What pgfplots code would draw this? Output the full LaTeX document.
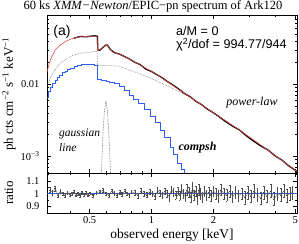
\documentclass[border=0pt]{standalone}
\usepackage{pgfplots}
\pgfplotsset{compat=1.18}
\usepackage{fontspec}
\setmainfont{Liberation Serif}
\setsansfont{Liberation Sans}
\definecolor{mred}{RGB}{228,75,75}
\definecolor{mblue}{RGB}{45,95,245}
\definecolor{mgray}{RGB}{110,110,110}
\begin{document}
\begin{tikzpicture}
\useasboundingbox (0,0) rectangle (299pt,243pt);
\pgfplotsset{
  every axis/.append style={
    scale only axis, width=250pt,
    xmode=log, xmin=0.31, xmax=5.1,
    tick align=inside,
    major tick length=4pt, minor tick length=2pt,
    ticklabel style={font=\fontsize{10.5}{12}\selectfont},
    yticklabel style={xshift=-4pt},
    xtick={0.5,1,2,5},
    minor xtick={0.4,0.6,0.7,0.8,0.9,3,4},
    tick style={black, line width=0.4pt},
    axis line style={line width=0.5pt},
  }
}
\begin{axis}[name=main, at={(47pt,70pt)}, anchor=south west,
  height=158pt, ymode=log, ymin=5.8e-4, ymax=0.092,
  xticklabels={},
  ytick={0.001,0.01}, yticklabels={10\textsuperscript{−3},0.01},
  minor ytick={6e-4,7e-4,8e-4,9e-4,2e-3,3e-3,4e-3,5e-3,6e-3,7e-3,8e-3,9e-3,2e-2,3e-2,4e-2,5e-2,6e-2,7e-2,8e-2,9e-2},
  ylabel={ph cts cm\textsuperscript{−2} s\textsuperscript{−1} keV\textsuperscript{−1}},
  ylabel style={at={(axis description cs:-0.152,0.5)}, anchor=center, font=\fontsize{13}{15}\selectfont},
]
% power-law (dotted grey)
\addplot[mgray, densely dotted, line width=0.6pt] coordinates {
(0.31,0.0097) (0.332,0.0147) (0.358,0.0196) (0.389,0.0230) (0.416,0.0253)
(0.449,0.0270) (0.486,0.0278) (0.543,0.0287) (0.546,0.0184) (0.626,0.0181)
(0.700,0.0178) (0.784,0.0156) (0.866,0.0142) (1.039,0.0114) (1.23,0.0091)
(1.54,0.0066) (2.03,0.0039) (2.68,0.0023) (3.69,0.0012) (4.98,0.00064) (5.1,0.00061)};
% gaussian line
\addplot[mgray!70!black, densely dotted, line width=0.6pt] coordinates {
(0.570,0.00056) (0.580,0.0020) (0.590,0.00434) (0.600,0.0056) (0.610,0.00434) (0.620,0.0020) (0.632,0.00056)};
% compsh (blue)
\addplot[mblue, line width=0.8pt, const plot] coordinates {
(0.31,0.0066) (0.316,0.0080) (0.321,0.0091) (0.330,0.0103) (0.339,0.0114) (0.348,0.0124)
(0.358,0.0133) (0.370,0.0146) (0.380,0.0153) (0.391,0.0160) (0.402,0.0167) (0.42,0.0175)
(0.437,0.0181) (0.455,0.0186) (0.474,0.0190) (0.494,0.0189) (0.514,0.0187) (0.530,0.0184)
(0.543,0.0181) (0.546,0.0117) (0.57,0.0113) (0.600,0.0110) (0.626,0.0107) (0.66,0.0101)
(0.700,0.0094) (0.74,0.0083) (0.784,0.0070) (0.82,0.0062) (0.866,0.0054) (0.92,0.0045)
(0.985,0.0036) (1.04,0.0029) (1.10,0.0023) (1.16,0.0018) (1.23,0.0013) (1.28,0.00105)
(1.34,0.00080) (1.40,0.00066) (1.45,0.00058)};
% data (black)
\addplot[black, line width=1.3pt] coordinates {
(0.42,0.0438) (0.45,0.0462) (0.48,0.0458) (0.51,0.0468) (0.53,0.0472) (0.545,0.0465)
(0.548,0.0300) (0.56,0.0298) (0.58,0.0325) (0.60,0.0352) (0.61,0.0350) (0.63,0.0305)
(0.66,0.0275) (0.70,0.0262) (0.74,0.0242) (0.78,0.0225) (0.82,0.0205) (0.88,0.0187)
(0.94,0.0162) (1.0,0.0150) (1.06,0.0136) (1.12,0.0124) (1.2,0.0108) (1.28,0.0096)
(1.36,0.0085) (1.45,0.0074) (1.54,0.0067) (1.64,0.0058) (1.75,0.0052) (1.87,0.0045)
(2.0,0.0040) (2.14,0.0035) (2.3,0.0030) (2.48,0.0026) (2.68,0.0023) (2.9,0.0019)
(3.15,0.0016) (3.4,0.00138) (3.69,0.00121) (4.0,0.00100) (4.3,0.00088) (4.65,0.00073)
(4.98,0.00064) (5.1,0.00061)};
% total model (red)
\addplot[mred, line width=0.6pt] coordinates {
(0.31,0.0147) (0.321,0.0216) (0.339,0.0297) (0.358,0.0348) (0.38,0.0392) (0.402,0.0422)
(0.425,0.0443) (0.449,0.0457) (0.475,0.0462) (0.502,0.0464) (0.525,0.0467) (0.543,0.0470)
(0.546,0.0297) (0.566,0.0306) (0.588,0.0337) (0.607,0.0354) (0.626,0.0316) (0.647,0.0278)
(0.700,0.0261) (0.767,0.0230) (0.879,0.0185) (1.039,0.0142) (1.23,0.0102) (1.54,0.0066)
(2.03,0.0039) (2.68,0.0023) (3.69,0.0012) (4.98,0.00064) (5.1,0.00061)};
\end{axis}

\begin{axis}[at={(47pt,30pt)}, anchor=south west,
  height=40pt, ymin=0.85, ymax=1.16,
  xticklabels={0.5,1,2,5},
  ytick={0.9,1,1.1}, yticklabels={0.9,1,1.1},
  minor ytick={0.85,0.95,1.05,1.15},
  ylabel={ratio},
  ylabel style={at={(axis description cs:-0.152,0.5)}, anchor=center, font=\fontsize{13}{15}\selectfont},
  xlabel={observed energy [keV]},
  xlabel style={at={(axis description cs:0.5,0)}, anchor=center, yshift=-22pt, font=\fontsize{13.5}{15}\selectfont},
]
\addplot[mblue, line width=0.6pt] coordinates {(0.31,1) (5.1,1)};
\addplot[mgray!70!black, line width=0.3pt, mark=-, mark size=0.8pt,
  error bars/.cd, y dir=both, y explicit, error bar style={line width=0.3pt, mgray!70!black}] coordinates {
(0.32,1.03) +- (0,0.02) (0.33,1.01) +- (0,0.02) (0.34,1.04) +- (0,0.02) (0.35,0.99) +- (0,0.015)
(0.36,1.02) +- (0,0.015) (0.37,1.0) +- (0,0.015) (0.38,0.985) +- (0,0.015) (0.39,1.01) +- (0,0.012)
(0.40,0.995) +- (0,0.012) (0.41,1.0) +- (0,0.012) (0.42,1.015) +- (0,0.012) (0.43,0.99) +- (0,0.012)
(0.44,1.0) +- (0,0.012) (0.45,0.985) +- (0,0.012) (0.46,1.01) +- (0,0.012) (0.47,0.995) +- (0,0.012)
(0.48,1.005) +- (0,0.012) (0.49,0.99) +- (0,0.012) (0.50,1.0) +- (0,0.012) (0.52,0.985) +- (0,0.012)
(0.54,1.01) +- (0,0.012) (0.56,1.015) +- (0,0.012) (0.58,1.025) +- (0,0.015) (0.60,1.0) +- (0,0.015)
(0.62,0.99) +- (0,0.015) (0.64,1.02) +- (0,0.015) (0.66,1.005) +- (0,0.015) (0.68,0.985) +- (0,0.015)
(0.70,1.01) +- (0,0.015) (0.72,0.995) +- (0,0.015) (0.74,1.02) +- (0,0.015) (0.76,1.0) +- (0,0.015)
(0.78,0.99) +- (0,0.015) (0.80,1.015) +- (0,0.015) (0.83,1.005) +- (0,0.02) (0.86,0.985) +- (0,0.02)
(0.89,1.02) +- (0,0.02) (0.92,1.0) +- (0,0.02) (0.95,0.99) +- (0,0.02) (0.98,1.015) +- (0,0.02)
(1.01,1.0) +- (0,0.02) (1.04,0.98) +- (0,0.025) (1.07,1.025) +- (0,0.025) (1.10,1.005) +- (0,0.025)
(1.13,0.99) +- (0,0.025) (1.16,1.02) +- (0,0.025) (1.19,1.0) +- (0,0.03) (1.22,0.975) +- (0,0.03)
(1.25,1.03) +- (0,0.03) (1.28,1.01) +- (0,0.03) (1.31,0.99) +- (0,0.03) (1.34,1.02) +- (0,0.03)
(1.37,0.985) +- (0,0.035) (1.40,1.04) +- (0,0.035) (1.43,1.0) +- (0,0.035) (1.46,0.975) +- (0,0.035)
(1.49,1.03) +- (0,0.04) (1.52,1.01) +- (0,0.04) (1.55,0.97) +- (0,0.04) (1.58,1.05) +- (0,0.04)
(1.61,0.99) +- (0,0.04) (1.64,1.02) +- (0,0.04) (1.67,0.96) +- (0,0.04) (1.70,1.03) +- (0,0.04)
(1.73,1.0) +- (0,0.04) (1.77,0.975) +- (0,0.04) (1.81,1.02) +- (0,0.04) (1.85,0.99) +- (0,0.04)
(1.90,1.01) +- (0,0.04) (1.95,0.985) +- (0,0.04) (2.00,1.02) +- (0,0.04) (2.06,1.0) +- (0,0.04)
(2.12,0.98) +- (0,0.045) (2.18,1.03) +- (0,0.045) (2.25,1.0) +- (0,0.045) (2.32,0.99) +- (0,0.045)
(2.40,1.02) +- (0,0.045) (2.48,0.975) +- (0,0.045) (2.56,1.01) +- (0,0.045) (2.65,0.985) +- (0,0.045)
(2.75,1.0) +- (0,0.045) (2.85,0.97) +- (0,0.05) (2.95,1.01) +- (0,0.05) (3.05,0.98) +- (0,0.05)
(3.15,1.02) +- (0,0.05) (3.27,0.99) +- (0,0.05) (3.40,0.965) +- (0,0.05) (3.52,1.01) +- (0,0.05)
(3.65,0.98) +- (0,0.05) (3.80,1.02) +- (0,0.05) (3.95,0.96) +- (0,0.05) (4.10,1.0) +- (0,0.05)
(4.25,0.99) +- (0,0.05) (4.40,1.02) +- (0,0.05) (4.55,0.985) +- (0,0.05) (4.70,1.0) +- (0,0.05)
(4.85,1.01) +- (0,0.05)};
\end{axis}

% texts
\node[font=\fontsize{12.5}{14}\selectfont] at (153pt,237pt) {60 ks \textit{XMM−Newton}/EPIC−pn spectrum of Ark120};
\node[font=\sffamily\fontsize{14}{16}\selectfont] at (62pt,211pt) {(a)};
\node[font=\sffamily\fontsize{12.6}{15}\selectfont, anchor=base west, inner sep=0pt] at (176pt,207pt) {a/M = 0};
\node[font=\sffamily\fontsize{12.6}{15}\selectfont, anchor=base west, inner sep=0pt] at (176pt,194pt) {χ\textsuperscript{2}/dof = 994.77/944};
\node[font=\itshape\fontsize{12}{14}\selectfont] at (252pt,140pt) {power-law};
\node[font=\bfseries\itshape\fontsize{12}{14}\selectfont] at (197.5pt,95pt) {compsh};
\node[font=\itshape\fontsize{11.5}{13}\selectfont, anchor=west, inner sep=0pt] at (59pt,109pt) {gaussian};
\node[font=\itshape\fontsize{11.5}{13}\selectfont, anchor=west, inner sep=0pt] at (59pt,95pt) {line};
\end{tikzpicture}
\end{document}
